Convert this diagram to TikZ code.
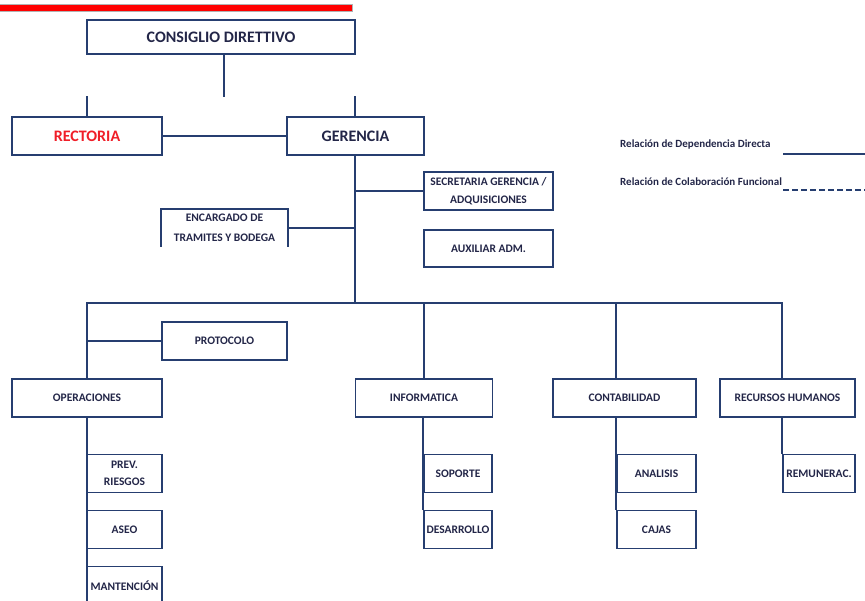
\documentclass[tikz,border=0pt]{standalone}
\usepackage{fontspec}
\setmainfont{Carlito}
\definecolor{navy}{RGB}{38,62,112}
\definecolor{ink}{RGB}{35,38,72}
\definecolor{redtxt}{RGB}{240,30,40}
\tikzset{
  box/.style={draw=navy, line width=1.6pt, fill=white, inner sep=0pt, align=center,
    text=ink, font=\bfseries\fontsize{11.5}{17.5}\selectfont},
  bigbox/.style={box, font=\bfseries\fontsize{16}{18}\selectfont},
  link/.style={draw=navy, line width=1.9pt},
  legendtxt/.style={anchor=west, text=ink, inner sep=0pt, font=\bfseries\fontsize{11}{12}\selectfont},
}
\begin{document}
\begin{tikzpicture}[x=1pt,y=-1pt]
\useasboundingbox (0,0) rectangle (865,600);
% header bar
\fill[red] (0,4) rectangle (352,11);
\draw[gray!60, line width=0.8pt] (0,4) -- (352,4) -- (352,11) -- (0,11);

% board and top level
\node[bigbox, minimum width=268pt, minimum height=34pt] (cd) at (221,37) {CONSIGLIO DIRETTIVO};
\node[bigbox, text=redtxt, minimum width=150pt, minimum height=38pt] (rect) at (87,136) {RECTORIA};
\node[bigbox, minimum width=137pt, minimum height=38pt] (ger) at (355.5,136) {GERENCIA};

% staff units under the management
\node[box, minimum width=129pt, minimum height=38pt] (sec) at (488.5,191) {SECRETARIA GERENCIA /\\ADQUISICIONES};
\node[box, draw=none, fill=none, minimum width=125pt, minimum height=36pt, font=\bfseries\fontsize{11.5}{20}\selectfont] (enc) at (224.5,228) {ENCARGADO DE\\TRAMITES Y BODEGA};
\node[box, minimum width=129pt, minimum height=37pt] (aux) at (488.5,248.5) {AUXILIAR ADM.};
\node[box, minimum width=125pt, minimum height=38pt] (prot) at (224.5,341) {PROTOCOLO};

% departments
\node[box, minimum width=150pt, minimum height=38pt] (ops) at (87,398) {OPERACIONES};
\node[box, minimum width=137pt, minimum height=38pt] (inf) at (424,398) {INFORMATICA};
\node[box, minimum width=143pt, minimum height=38pt] (con) at (624.5,398) {CONTABILIDAD};
\node[box, minimum width=135pt, minimum height=38pt] (rrhh) at (787.5,398) {RECURSOS HUMANOS};

% sections
\node[box, minimum width=75pt, minimum height=38pt] (prev) at (124.5,473.5) {PREV.\\RIESGOS};
\node[box, minimum width=75pt, minimum height=38pt] (aseo) at (124.5,529.5) {ASEO};
\node[box, minimum width=75pt, minimum height=38pt] (mant) at (124.5,585.5) {MANTENCIÓN};
\node[box, minimum width=68pt, minimum height=38pt] (sop) at (458,473.5) {SOPORTE};
\node[box, minimum width=68pt, minimum height=38pt] (des) at (458,529.5) {DESARROLLO};
\node[box, minimum width=79pt, minimum height=38pt] (ana) at (656.5,473.5) {ANALISIS};
\node[box, minimum width=79pt, minimum height=38pt] (caj) at (656.5,529.5) {CAJAS};
\node[box, minimum width=72pt, minimum height=38pt] (rem) at (819,473.5) {REMUNERAC.};

% open frame of the storekeeper box
\draw[draw=navy, line width=1.6pt] (enc.south west) -- (enc.north west) -- (enc.north east) -- (enc.south east);

% connectors
\coordinate (cdfoot) at (224,97);
\coordinate (bus) at (355,303);
\coordinate (opsfoot) at (87,600);
\draw[link] (cd.south -| cdfoot) -- (cdfoot);
\draw[link] (rect.north) -- ++(0,-20);
\draw[link] (ger.north -| bus) -- ++(0,-20);
\draw[link] (rect.east) -- (ger.west);
\draw[link] (ger.south -| bus) -- (bus);
\draw[link] (sec.west -| bus) -- (sec.west);
\draw[link] (enc.east) -- (enc.east -| bus);
\draw[link] (ops.north) |- (bus) -| (rrhh.north -| rem.west);
\draw[link] (bus -| inf.north) -- (inf.north);
\draw[link] (bus -| ana.west) -- (con.north -| ana.west);
\draw[link] (prot.west) -- (prot.west -| ops.north);
\draw[link] (ops.south) -- (opsfoot);
\draw[link] (inf.south -| sop.west) -- (des.north west);
\draw[link] (con.south -| ana.west) -- (caj.north west);
\draw[link] (rrhh.south -| rem.west) -- (rem.north west);

% legend
\node[legendtxt] (l1) at (620,145) {Relación de Dependencia Directa};
\node[legendtxt] (l2) at (620,182) {Relación de Colaboración Funcional};
\coordinate (l1a) at (783,154);
\coordinate (l1b) at (865,154);
\coordinate (l2a) at (783,190);
\coordinate (l2b) at (865,190);
\draw[link] (l1a) -- (l1b);
\draw[link, dash pattern=on 6pt off 3pt] (l2a) -- (l2b);
\end{tikzpicture}
\end{document}
